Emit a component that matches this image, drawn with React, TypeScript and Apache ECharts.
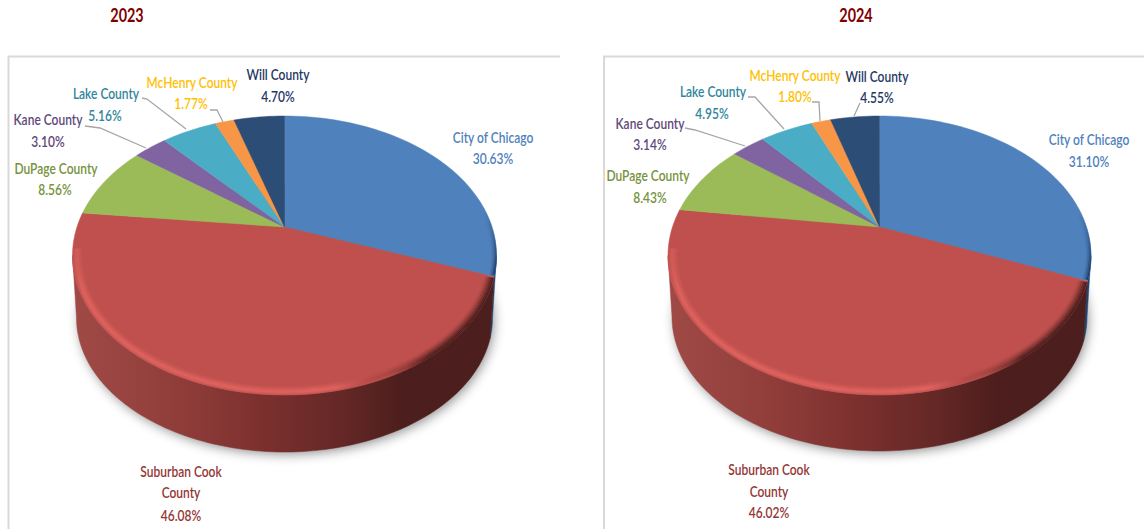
import React, { useEffect, useRef } from "react";
import * as echarts from "echarts";

const categories = ["City of Chicago", "Suburban Cook County", "DuPage County", "Kane County", "Lake County", "McHenry County", "Will County"];
const values2023 = [30.63, 46.08, 8.56, 3.1, 5.16, 1.77, 4.7];
const values2024 = [31.1, 46.02, 8.43, 3.14, 4.95, 1.8, 4.55];
const titles = ["2023", "2024"];
const sliceColors = ["#4f81bd", "#c0504d", "#9bbb59", "#8064a2", "#4bacc6", "#f79646", "#2c4d75"];
const labelColors = ["#4f81bd", "#953735", "#76923c", "#5f497a", "#31859c", "#ffc000", "#1f3864"];

const labelLines: string[][] = [["City of Chicago"], ["Suburban Cook", "County"], ["DuPage County"], ["Kane County"], ["Lake County"], ["McHenry County"], ["Will County"]];

// layout of the two panels
const geo2023 = { cx: 284.5, cy: 255.5, rx: 212, ry: 139.5, apexY: 227, bcy: 318, brx: 208, bry: 134 };
const geo2024 = { cx: 879.5, cy: 255.5, rx: 211.5, ry: 139.5, apexY: 227, bcy: 317, brx: 207.5, bry: 134 };
// centre of each text line per slice
const labelPos2023 = [[[493, 137], [493, 158]], [[181, 471], [181, 492], [181, 515]], [[56, 168], [55, 189]], [[48, 119], [48, 141]], [[106, 93], [105, 115]], [[192, 82], [191, 103]], [[278, 74], [278, 96]]];
const labelPos2024 = [[[1089, 139], [1089, 161]], [[769, 469], [769, 491], [769, 512]], [[648, 175], [650, 197]], [[650, 123], [650, 144]], [[713, 91], [712, 113]], [[795, 75], [795, 96]], [[877, 76], [877, 97]]];
const leaders2023 = [[[85, 126], [100, 128], [146, 148]], [[142, 98], [147, 99], [186, 129]], [[210, 110], [217, 110], [223, 122]]];
const leaders2024 = [[[685, 128], [695, 130], [745, 146]], [[748, 97], [755, 97], [784, 129]], [[812, 102], [819, 102], [820, 121]], [[860, 103], [854, 116]]];

const RAD = Math.PI / 180;

// perspective: the pie's centre is seen off the ellipse's centre, so a value angle is remapped
function angleMap(g: any) {
  const c = (g.apexY - g.cy) / g.ry;
  const p = c / (1 + Math.sqrt(1 - c * c));
  return (theta: number) => {
    const zr = Math.sin(theta * RAD);
    const zi = -Math.cos(theta * RAD);
    const nr = zr;
    const ni = zi + p;
    const dr = 1 + p * zi;
    const di = -p * zr;
    const den = dr * dr + di * di;
    return Math.atan2((ni * dr - nr * di) / den, (nr * dr + ni * di) / den) / RAD;
  };
}

function arc(cx: number, cy: number, rx: number, ry: number, from: number, to: number) {
  const n = Math.max(2, Math.ceil(Math.abs(to - from) / 1.5));
  const out: number[][] = [];
  for (let i = 0; i <= n; i++) {
    const a = (from + ((to - from) * i) / n) * RAD;
    out.push([cx + rx * Math.cos(a), cy + ry * Math.sin(a)]);
  }
  return out;
}

function unwrap(a: number, ref: number) {
  let x = a;
  while (x < ref) x += 360;
  return x;
}

function wallRender(values: number[], g: any) {
  const map = angleMap(g);
  return (params: any, api: any) => {
    const i = params.dataIndex;
    const before = values.slice(0, i).reduce((s, v) => s + v, 0);
    const v = api.value(0);
    const from = unwrap(map((before / 100) * 360), -90);
    const to = unwrap(map(((before + v) / 100) * 360), from);
    const children: any[] = [];
    if (i === 0) {
      children.push({
        type: "polygon",
        shape: { points: arc(g.cx, g.bcy, g.brx - 1, g.bry - 1, 0, 360) },
        style: { fill: "#999", shadowBlur: 12, shadowColor: "rgba(0,0,0,0.45)", shadowOffsetX: 2, shadowOffsetY: 3 },
      });
    }
    const a = Math.max(from, 0);
    const b = Math.min(to, 180);
    if (b > a) {
      const pts = arc(g.cx, g.cy, g.rx, g.ry, a, b).concat(arc(g.cx, g.bcy, g.brx, g.bry, b, a));
      const fill =
        i === 1
          ? new echarts.graphic.LinearGradient(g.cx - g.rx, 0, g.cx + g.rx, 0, [
              { offset: 0, color: "#a04a46" },
              { offset: 0.25, color: "#903d3a" },
              { offset: 0.45, color: "#7b302e" },
              { offset: 0.63, color: "#652826" },
              { offset: 0.78, color: "#4c1e1d" },
              { offset: 1, color: "#4c1e1d" },
            ], true)
          : "#1d4672";
      children.push({ type: "polygon", shape: { points: pts }, style: { fill, stroke: fill, lineWidth: 0.5 } });
    }
    return { type: "group", children };
  };
}

const BRIGHT = [0.25, 0.6, 0.9, 0.75, 0.5, 0.28, 0.12];
const DARK = [1, 0.85, 0.65, 0.45, 0.3, 0.15, 0.06];
const BLUE_RIM = [0.95, 0.65, 0.35, 0.15];

function topRender(values: number[], g: any, pos: number[][][], leaders: number[][][]) {
  const map = angleMap(g);
  const apex = [g.cx, g.apexY];
  return (params: any, api: any) => {
    const i = params.dataIndex;
    const before = values.slice(0, i).reduce((s, v) => s + v, 0);
    const v = api.value(0);
    const from = unwrap(map((before / 100) * 360), -90);
    const to = unwrap(map(((before + v) / 100) * 360), from);
    const children: any[] = [
      {
        type: "polygon",
        shape: { points: [apex].concat(arc(g.cx, g.cy, g.rx, g.ry, from, to)) },
        style: { fill: sliceColors[i], stroke: sliceColors[i], lineWidth: 0.5 },
      },
    ];
    if (i === 1) {
      BRIGHT.forEach((al, k) => {
        const inset = k * 1.4;
        const stroke = new echarts.graphic.LinearGradient(g.cx - g.rx, 0, g.cx + g.rx, 0, [
          { offset: 0, color: `rgba(226,100,96,${al * 0.3})` },
          { offset: 0.025, color: `rgba(226,100,96,${al})` },
          { offset: 0.62, color: `rgba(226,100,96,${al})` },
          { offset: 0.74, color: `rgba(150,60,58,${al * 0.5})` },
          { offset: 0.84, color: `rgba(76,30,29,${DARK[k]})` },
          { offset: 1, color: `rgba(76,30,29,${DARK[k]})` },
        ], true);
        children.push({
          type: "polyline",
          shape: { points: arc(g.cx, g.cy, g.rx - inset - 0.7, g.ry - inset * 0.9 - 0.5, from + 0.4, 183) },
          style: { fill: "none", stroke, lineWidth: 1.6 },
        });
      });
    }
    if (i === 0) {
      BLUE_RIM.forEach((al, k) => {
        const inset = k * 1.3;
        const stroke = new echarts.graphic.LinearGradient(0, g.cy - 45, 0, g.cy + 15, [
          { offset: 0, color: "rgba(28,60,100,0)" },
          { offset: 1, color: `rgba(28,60,100,${al})` },
        ], true);
        children.push({
          type: "polyline",
          shape: { points: arc(g.cx, g.cy, g.rx - inset - 0.5, g.ry - inset - 0.5, -25, to - 0.5) },
          style: { fill: "none", stroke, lineWidth: 1.4 },
        });
      });
    }
    // labels: name lines and the share
    const lines = labelLines[i].concat([v.toFixed(2) + "%"]);
    lines.forEach((t, k) => {
      children.push({
        type: "text",
        x: pos[i][k][0],
        y: pos[i][k][1],
        scaleX: 0.8,
        style: {
          text: t,
          fill: labelColors[i],
          font: "600 15px Lato, sans-serif",
          align: "center",
          verticalAlign: "middle",
        },
      });
    });
    if (i === values.length - 1) {
      leaders.forEach((pts) => {
        children.push({ type: "polyline", shape: { points: pts }, style: { fill: "none", stroke: "#a6a6a6", lineWidth: 1.3 } });
      });
    }
    return { type: "group", children };
  };
}

function pieSeries(name: string, values: number[], g: any, pos: number[][][], leaders: number[][][]) {
  const data = values.map((v, i) => ({ name: categories[i], value: [v] }));
  return [
    { type: "custom", name: name + " sides", coordinateSystem: "none", silent: true, z: 1, data, renderItem: wallRender(values, g) },
    { type: "custom", name, coordinateSystem: "none", silent: true, z: 2, data, renderItem: topRender(values, g, pos, leaders) },
  ];
}

function titleText(text: string, x: number) {
  return {
    type: "text",
    silent: true,
    x,
    y: 15,
    scaleX: 0.8,
    style: { text, fill: "#7f0000", font: "bold 18px Lato, sans-serif", align: "center", verticalAlign: "middle" },
  };
}

export default function App() {
  const ref = useRef<HTMLDivElement>(null);
  useEffect(() => {
    document.body.style.margin = "0";
    const chart = echarts.init(ref.current as HTMLDivElement, undefined, { renderer: "svg" });
    chart.setOption({
      animation: false,
      backgroundColor: "#ffffff",
      graphic: [
        titleText(titles[0], 127),
        titleText(titles[1], 856),
        { type: "polyline", silent: true, shape: { points: [[8.5, 529], [8.5, 56.5], [560, 56.5]] }, style: { fill: "none", stroke: "#d9d9d9", lineWidth: 2 } },
        { type: "polyline", silent: true, shape: { points: [[604, 529], [604, 56.5], [1144, 56.5]] }, style: { fill: "none", stroke: "#d9d9d9", lineWidth: 2 } },
      ],
      series: [
        ...pieSeries(titles[0], values2023, geo2023, labelPos2023, leaders2023),
        ...pieSeries(titles[1], values2024, geo2024, labelPos2024, leaders2024),
      ],
    });
    return () => chart.dispose();
  }, []);
  return <div ref={ref} style={{ position: "absolute", left: 0, top: 0, width: 1144, height: 529 }} />;
}
